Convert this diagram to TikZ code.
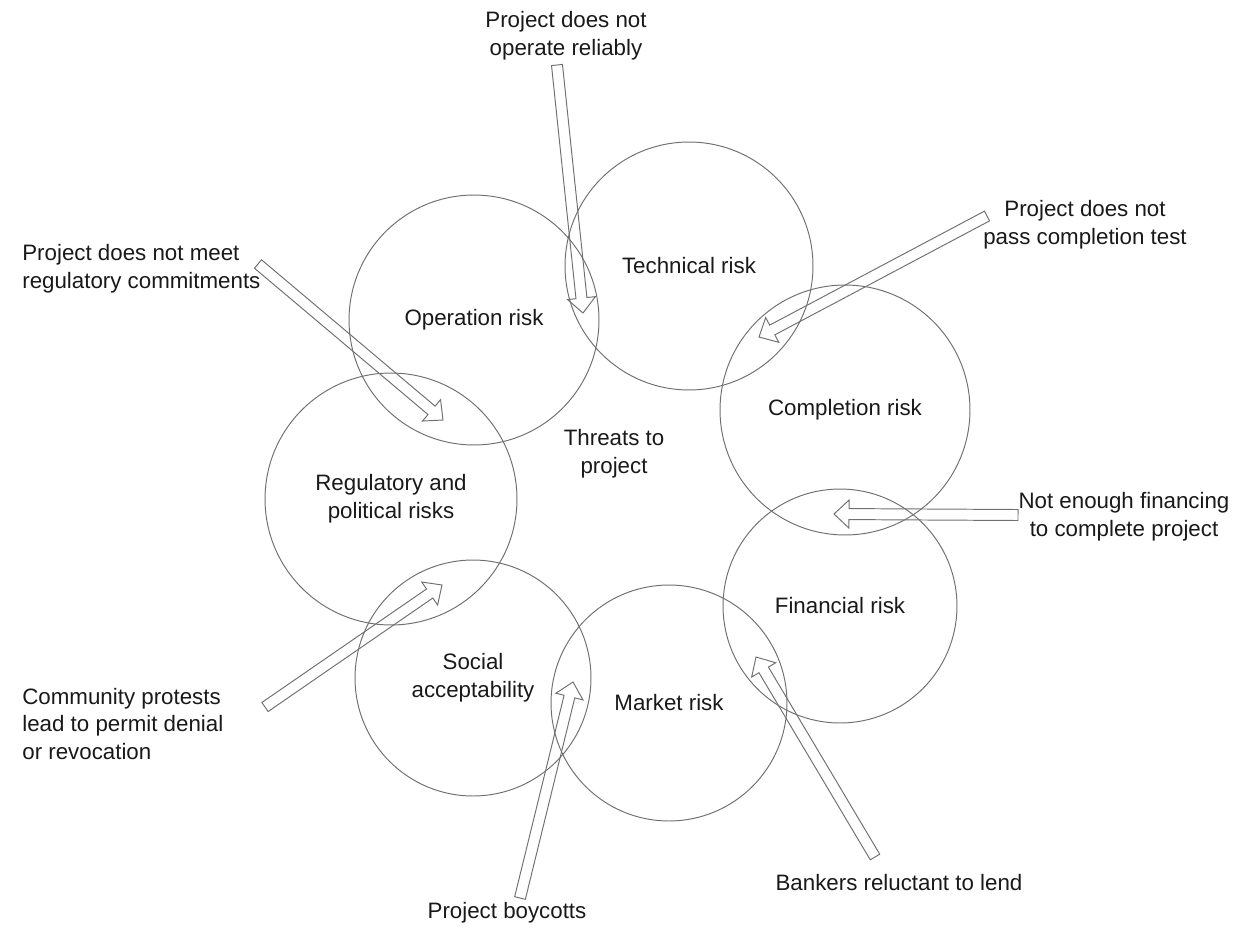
\documentclass[tikz,border=0pt]{standalone}
\usepackage{fontspec}
\setmainfont{Liberation Sans}
\usetikzlibrary{calc}
\definecolor{riskgray}{RGB}{112,112,112}
\definecolor{riskink}{RGB}{25,25,25}

% hollow block arrow from #1 (tail) to #2 (tip)
\newcommand{\blockarrow}[2]{%
  \coordinate (ba-h) at ($(#2)!0.3cm!(#1)$);
  \draw[blockarr] ($(#1)!0.11cm!90:(#2)$) -- ($(ba-h)!0.11cm!90:(#2)$) -- ($(ba-h)!0.28cm!90:(#2)$)
    -- (#2) -- ($(ba-h)!0.28cm!-90:(#2)$) -- ($(ba-h)!0.11cm!-90:(#2)$) -- ($(#1)!0.11cm!-90:(#2)$) -- cycle;
}

\begin{document}
\begin{tikzpicture}[
    x=0.02cm, y=-0.02cm,
    every node/.style={font=\fontsize{12.7}{15.9}\selectfont, text=riskink},
    risk/.style={circle, draw=riskgray, line width=0.55pt, inner sep=0pt, align=center},
    lbl/.style={inner sep=0pt},
    blockarr/.style={draw=riskgray, line width=0.55pt, line join=miter}
  ]
  \useasboundingbox (0,0) rectangle (1244,927);

  % the seven risks
  \node[risk, minimum size=4.96cm] (tech) at (689,266) {Technical risk};
  \node[risk, minimum size=5cm] (oper) at (474,320) {Operation risk};
  \node[risk, minimum size=5cm] (compl) at (845,410) {Completion risk};
  \node[risk, minimum size=5.04cm] (regul) at (391,499) {Regulatory and\\political risks};
  \node[risk, minimum size=4.68cm] (finan) at (840,606) {Financial risk};
  \node[risk, minimum size=4.72cm] (social) at (473,678) {Social\\acceptability};
  \node[risk, minimum size=4.72cm] (market) at (669,703) {Market risk};

  \node[lbl, align=center] (threat) at (614,454) {Threats to\\project};

  % outer threats
  \node[lbl, align=center] (lrel) at (566,36) {Project does not\\operate reliably};
  \node[lbl, align=center] (lcompl) at (1085,225) {Project does not\\pass completion test};
  \node[lbl, align=left, anchor=west] (lregul) at (22,269) {Project does not meet\\regulatory commitments};
  \node[lbl, align=center] (lfin) at (1124,517) {Not enough financing\\to complete project};
  \node[lbl, align=left, anchor=west] (lcomm) at (22,724) {Community protests\\lead to permit denial\\or revocation};
  \node[lbl] (lboy) at (507,913) {Project boycotts};
  \node[lbl] (lbank) at (899,883) {Bankers reluctant to lend};

  \coordinate (rel-a) at (557,65);   \coordinate (rel-b) at (583,313);
  \coordinate (cpl-a) at (987,216);  \coordinate (cpl-b) at (759,337);
  \coordinate (reg-a) at (258,264);  \coordinate (reg-b) at (443,420);
  \coordinate (fin-a) at (1018,515); \coordinate (fin-b) at (834,514);
  \coordinate (com-a) at (265,707);  \coordinate (com-b) at (442,585);
  \coordinate (boy-a) at (520,898);  \coordinate (boy-b) at (573,682);
  \coordinate (bnk-a) at (875,857);  \coordinate (bnk-b) at (756,657);

  \blockarrow{rel-a}{rel-b}
  \blockarrow{cpl-a}{cpl-b}
  \blockarrow{reg-a}{reg-b}
  \blockarrow{fin-a}{fin-b}
  \blockarrow{com-a}{com-b}
  \blockarrow{boy-a}{boy-b}
  \blockarrow{bnk-a}{bnk-b}
\end{tikzpicture}
\end{document}
